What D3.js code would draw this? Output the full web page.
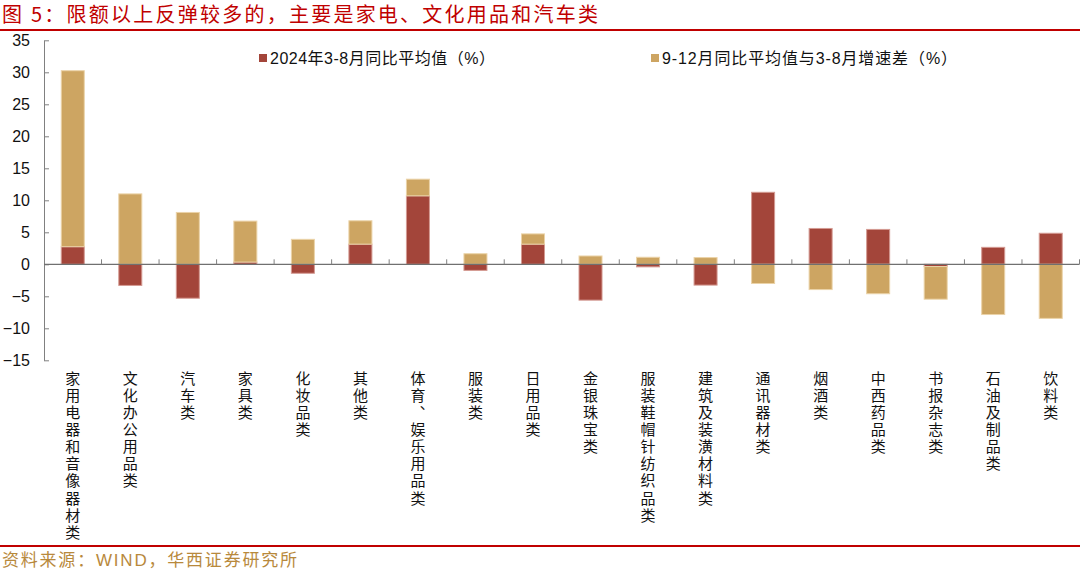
<!DOCTYPE html>
<html><head><meta charset="utf-8">
<script src="https://cdn.jsdelivr.net/npm/d3@7"></script>
<style>body{margin:0;background:#fff}svg{display:block}</style>
</head><body>
<svg id="c" width="1080" height="572"></svg>
<script>
const categories = ["家用电器和音像器材类","文化办公用品类","汽车类","家具类","化妆品类","其他类","体育、娱乐用品类","服装类","日用品类","金银珠宝类","服装鞋帽针纺织品类","建筑及装潢材料类","通讯器材类","烟酒类","中西药品类","书报杂志类","石油及制品类","饮料类"];
const avg38 = [2.75,-3.3,-5.3,0.35,-1.4,3.15,10.7,-0.95,3.15,-5.6,-0.4,-3.25,11.25,5.6,5.45,-0.35,2.65,4.85];
const diff912 = [27.5,11.0,8.1,6.4,3.9,3.65,2.6,1.65,1.6,1.3,1.1,1.05,-3.0,-3.95,-4.6,-5.1,-7.85,-8.45];
const yTicks = [-15,-10,-5,0,5,10,15,20,25,30,35];
const seriesNames = ["2024年3-8月同比平均值（%）","9-12月同比平均值与3-8月增速差（%）"];
const colors = ["#A3453A","#CDA562"];
const strokes = ["#D49A92","#EBD3A8"];
const titleText = "图 5：限额以上反弹较多的，主要是家电、文化用品和汽车类";
const sourceText = "资料来源：WIND，华西证券研究所";

const svg = d3.select("#c");
const x0 = 44, x1 = 1079.5;
const x = d3.scaleBand().domain(categories).range([x0, x1]).paddingInner(0.6).paddingOuter(0.3);
const y = d3.scaleLinear().domain([-15, 35]).range([360.3, 40.3]);

// title
svg.append("text").attr("x", 2).attr("y", 22).attr("fill", "#C00000")
  .attr("font-family", "Noto Sans CJK SC").attr("font-size", 20)
  .attr("textLength", 596).attr("lengthAdjust", "spacing").text(titleText);
svg.append("rect").attr("x", 0).attr("y", 29).attr("width", 1080).attr("height", 2).attr("fill", "#C00000");
svg.append("rect").attr("x", 0).attr("y", 545).attr("width", 1080).attr("height", 2).attr("fill", "#C00000");
svg.append("text").attr("x", 2).attr("y", 566).attr("fill", "#B8893C")
  .attr("font-family", "Liberation Sans, Noto Sans CJK SC").attr("font-size", 17)
  .attr("textLength", 295).attr("lengthAdjust", "spacing").text(sourceText);

// stacked diverging data
const rows = categories.map((c, i) => ({cat: c, a: avg38[i], b: diff912[i]}));
const stack = d3.stack().keys(["a", "b"]).offset(d3.stackOffsetDiverging);
const series = stack(rows);

svg.append("g").selectAll("g").data(series).join("g")
  .attr("fill", (d, i) => colors[i]).attr("stroke", (d, i) => strokes[i]).attr("stroke-width", 1)
  .selectAll("rect").data(d => d).join("rect")
  .attr("x", d => x(d.data.cat)).attr("width", x.bandwidth())
  .attr("y", d => y(Math.max(d[0], d[1])))
  .attr("height", d => Math.abs(y(d[0]) - y(d[1])));

// y axis
const yAxis = d3.axisLeft(y).tickValues(yTicks).tickSizeInner(-5).tickSizeOuter(0).tickPadding(14);
const gy = svg.append("g").attr("transform", `translate(${x0},0)`).call(yAxis);
gy.select(".domain").attr("stroke", "#808080");
gy.selectAll(".tick line").attr("stroke", "#808080");
gy.selectAll("text").attr("font-family", "Liberation Sans").attr("font-size", 16).attr("fill", "#111");

// x axis line and ticks
const step = x.step();
const gx = svg.append("g");
gx.append("line").attr("x1", x0).attr("x2", x1).attr("y1", y(0)).attr("y2", y(0)).attr("stroke", "#707070").attr("stroke-width", 1.2);
gx.selectAll("line.t").data(categories).join("line").attr("class", "t")
  .attr("x1", d => x(d) + x.bandwidth() + step * 0.3).attr("x2", d => x(d) + x.bandwidth() + step * 0.3)
  .attr("y1", y(0)).attr("y2", y(0) - 5).attr("stroke", "#808080");

// x labels vertical
const lab = svg.append("g").attr("font-family", "Noto Sans CJK SC").attr("font-size", 15).attr("fill", "#111");
categories.forEach(c => {
  const cx = x(c) + x.bandwidth() / 2;
  lab.append("text")
    .attr("x", cx).attr("y", 371)
    .attr("writing-mode", "vertical-rl")
    .style("text-orientation", "upright")
    .style("letter-spacing", "2.05px")
    .text(c);
});

// legend
const leg = svg.append("g").attr("font-family", "Liberation Sans, Noto Sans CJK SC").attr("font-size", 16).attr("fill", "#111");
const legX = [259, 651];
const legLen = [225, 295];
seriesNames.forEach((n, i) => {
  leg.append("rect").attr("x", legX[i]).attr("y", 54).attr("width", 8).attr("height", 8).attr("fill", colors[i]);
  leg.append("text").attr("x", legX[i] + 11).attr("y", 64)
    .attr("textLength", legLen[i]).attr("lengthAdjust", "spacing").text(n);
});
</script>
</body></html>
